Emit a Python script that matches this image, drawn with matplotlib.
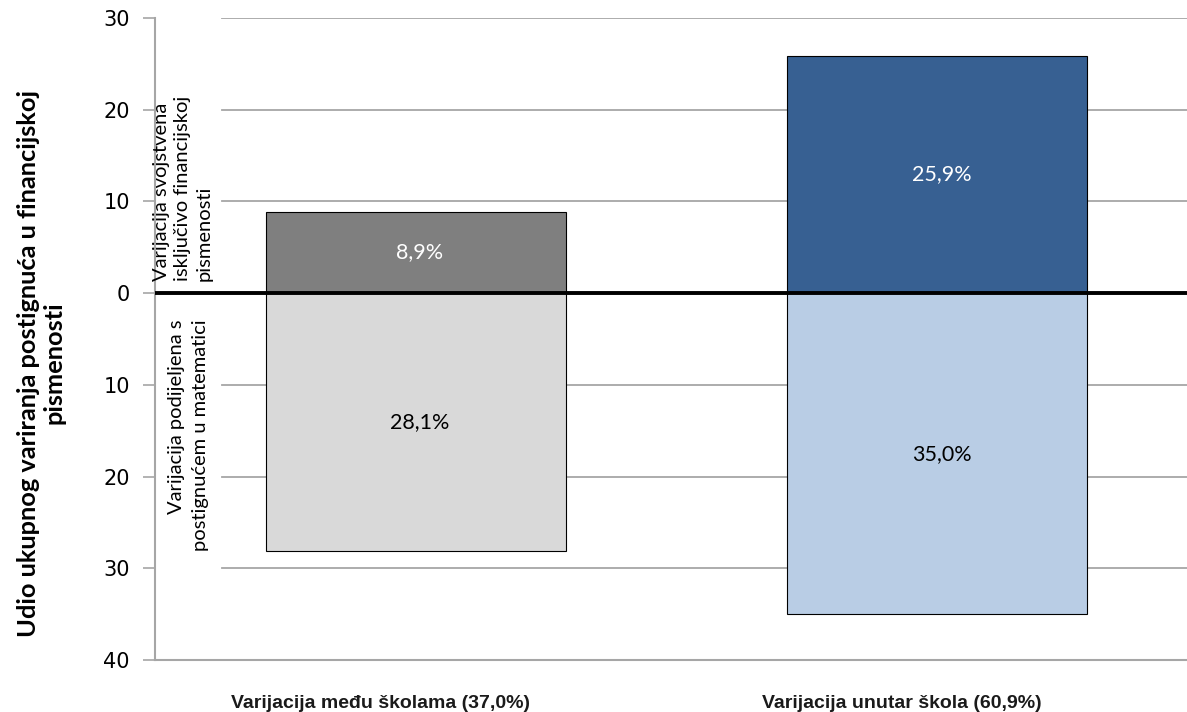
import numpy as np
import matplotlib
matplotlib.use("Agg")
import matplotlib.pyplot as plt
import matplotlib.transforms as mtransforms

categories = ["Varijacija među školama (37,0%)", "Varijacija unutar škola (60,9%)"]
above = [8.9, 25.9]     # varijacija svojstvena isključivo financijskoj pismenosti
below = [28.1, 35.0]    # varijacija podijeljena s postignućem u matematici
above_colors = ["#7f7f7f", "#376092"]
below_colors = ["#d9d9d9", "#b9cde5"]
yticks = [30, 20, 10, 0, -10, -20, -30, -40]

soft = "Lato"

fig = plt.figure(figsize=(11.87, 7.12), dpi=100)
ax = fig.add_axes([155 / 1187, 52 / 712, 1043 / 1187, 642 / 712])

x = np.arange(len(categories))
w = 0.575
ax.bar(x, above, width=w, color=above_colors, edgecolor="black", linewidth=0.8, zorder=3)
ax.bar(x, [-v for v in below], width=w, color=below_colors, edgecolor="black", linewidth=0.8, zorder=3)

for i in range(len(categories)):
    ax.text(x[i] + 0.008, above[i] / 2, f"{above[i]:.1f}%".replace(".", ","), ha="center", va="center",
            color="white", fontsize=15.5, family=soft, zorder=4)
    ax.text(x[i] + 0.008, -below[i] / 2, f"{below[i]:.1f}%".replace(".", ","), ha="center", va="center",
            color="black", fontsize=15.5, family=soft, zorder=4)

ax.set_xlim(-0.5, 1.5)
ax.set_ylim(-40, 30)

# gridlines (start a bit right of the axis, the annotation area stays clear)
for t in yticks:
    if t not in (0, -40):
        ax.axhline(t, xmin=0.064, color="#a6a6a6", linewidth=1.3, zorder=1)
ax.axhline(0, color="black", linewidth=2.8, zorder=5)

ax.set_yticks(yticks)
ax.set_yticklabels([str(abs(t)) for t in yticks], fontsize=15, family="DejaVu Sans")
ax.tick_params(axis="y", direction="out", length=9, width=1.2, color="#a6a6a6", pad=9)
ax.set_xticks([])
for s in ["top", "right"]:
    ax.spines[s].set_visible(False)
for s in ["left", "bottom"]:
    ax.spines[s].set_color("#a6a6a6")
    ax.spines[s].set_linewidth(1.5)

# category labels
trans = mtransforms.blended_transform_factory(ax.transData, ax.transAxes)
for i, c in enumerate(categories):
    ax.text(x[i] - 0.068, -0.067, c, transform=trans, ha="center", va="center",
            fontsize=14, fontweight="bold", family="Liberation Sans", color="#1a1a1a")

# side annotations
ttrans = mtransforms.blended_transform_factory(ax.transAxes, ax.transData)
ax.text(-0.002, 1.3, "Varijacija svojstvena\nisključivo financijskoj\npismenosti",
        transform=ttrans, rotation=90, rotation_mode="anchor", ha="left", va="top",
        multialignment="left", fontsize=14.5, family=soft, linespacing=1.3, zorder=6)
ax.text(0.012, -2.9, "Varijacija podijeljena s\npostignućem u matematici",
        transform=ttrans, rotation=90, rotation_mode="anchor", ha="right", va="top",
        multialignment="right", fontsize=14.5, family=soft, linespacing=1.5, zorder=6)

fig.text(0.035, 0.49, "Udio ukupnog variranja postignuća u financijskoj\npismenosti",
         rotation=90, ha="center", va="center", multialignment="center",
         fontsize=18.3, fontweight="bold", family=soft, linespacing=1.15)

fig.savefig("out.png", dpi=100)
